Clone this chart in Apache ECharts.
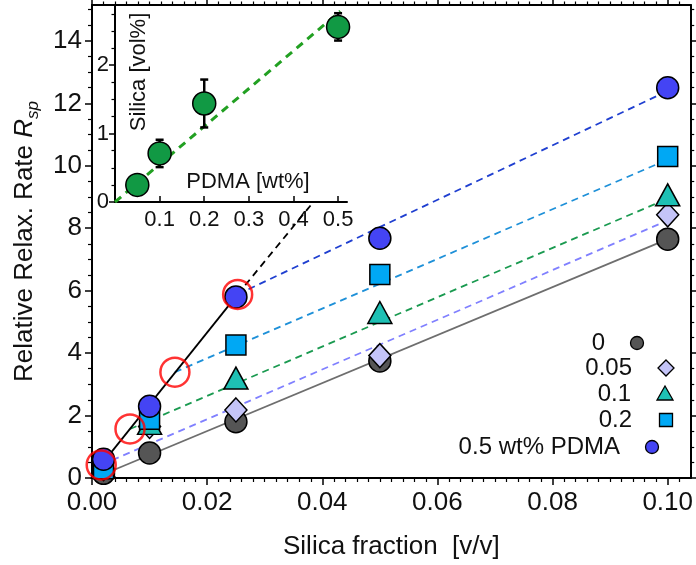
<!DOCTYPE html>
<html>
<head>
<meta charset="utf-8">
<script src="https://cdn.jsdelivr.net/npm/echarts@6/dist/echarts.min.js"></script>
<style>
  html, body { margin: 0; padding: 0; background: #fff; }
  #chart { width: 696px; height: 565px; }
</style>
</head>
<body>
<div id="chart"></div>
<script>
// main panel data
const silica = [0.002, 0.01, 0.025, 0.05, 0.1];
const rsp0 = [0.15, 0.8, 1.8, 3.75, 7.65];
const rsp005 = [0.3, 1.65, 2.18, 3.92, 8.43];
const rsp01 = [0.35, 1.75, 3.2, 5.3, 9.07];
const rsp02 = [0.3, 1.88, 4.26, 6.52, 10.3];
const rsp05 = [0.6, 2.3, 5.8, 7.68, 12.5];

// fit lines: start point per series, all end at x = 0.1
const fitStartX = [0.002, 0.0016, 0.0066, 0.0144, 0.0253];
const fitStartY = [0.12, 0.42, 1.57, 3.39, 5.88];
const fitEndX = 0.1;
const fitEndY = [7.65, 8.25, 8.95, 10.2, 12.4];

// crossover line and marked points
const crossX = [0.0016, 0.0253, 0.0385];
const crossY = [0.42, 5.88, 8.85];
const markX = [0.0016, 0.0066, 0.0144, 0.0253];
const markY = [0.42, 1.57, 3.39, 5.88];

// inset data
const pdma = [0.05, 0.1, 0.2, 0.5];
const silicaVol = [0.25, 0.71, 1.44, 2.56];
const silicaErr = [0, 0.2, 0.35, 0.2];
const insetFitX = [0, 0.505];
const insetFitY = [0, 2.79];
const insetYTicks = [0, 1, 2];

const legendNames = ["0", "0.05", "0.1", "0.2", "0.5 wt% PDMA"];

const FONT = "Liberation Sans, Arial, sans-serif";
const colors = {
  grey: "#555555", lav: "#c4c4f8", teal: "#1ec0b4", sky: "#00a8f4", blue: "#4444f4",
};
const lineColors = ["#6e6e6e", "#8080ff", "#1a9a50", "#1e90d8", "#1f3fd0"];

const chart = echarts.init(document.getElementById("chart"), null, { renderer: "canvas" });

const pairs = (xs, ys) => xs.map((x, i) => [x, ys[i]]);

function markerSeries(name, ys, symbol, size, color, z) {
  return {
    name, type: "scatter", xAxisIndex: 0, yAxisIndex: 0,
    data: pairs(silica, ys), symbol, symbolSize: size, z,
    itemStyle: { color, borderColor: "#000", borderWidth: 1.5, opacity: 1 },
  };
}

function fitSeries(i, dashed) {
  return {
    type: "line", xAxisIndex: 0, yAxisIndex: 0, symbol: "none", z: 2,
    data: [[fitStartX[i], fitStartY[i]], [fitEndX, fitEndY[i]]],
    lineStyle: { color: lineColors[i], width: 1.8, type: dashed ? [7, 5] : "solid" },
  };
}

const mainTick = { fontFamily: FONT, fontSize: 26, color: "#111" };
const axisLine = { show: true, onZero: false, lineStyle: { color: "#000", width: 2 } };

const textEl = (text, x, y, size, align, extra) => ({
  type: "text", x, y, ...(extra || {}),
  style: { text, font: size + "px " + FONT, fill: "#111", textAlign: align, textVerticalAlign: "middle" },
});

const option = {
  animation: false,
  backgroundColor: "#fff",
  grid: [
    { left: 92, right: 5, top: 5, bottom: 86 },
    { left: 115, top: 5, width: 232, height: 197 },
  ],
  xAxis: [
    {
      gridIndex: 0, type: "value", min: 0, max: 0.104, interval: 0.02, position: "bottom",
      axisLine,
      axisTick: { show: true, inside: false, length: 7, lineStyle: { width: 1.5, color: "#000" },
        customValues: [0, 0.02, 0.04, 0.06, 0.08, 0.1] },
      minorTick: { show: true, splitNumber: 10, length: 4, lineStyle: { width: 1.2, color: "#000" } },
      axisLabel: { ...mainTick, margin: 12, showMaxLabel: false,
        formatter: (v) => v.toFixed(2) },
      splitLine: { show: false },
      name: "Silica fraction  [v/v]", nameLocation: "middle", nameGap: 56,
      nameTextStyle: { fontFamily: FONT, fontSize: 26, color: "#111" },
    },
    {
      gridIndex: 0, type: "value", min: 0, max: 0.104, interval: 0.02, position: "top",
      axisLine,
      axisTick: { show: true, inside: false, length: 6, lineStyle: { width: 1.5, color: "#000" },
        customValues: [0, 0.02, 0.04, 0.06, 0.08, 0.1] },
      minorTick: { show: true, splitNumber: 10, length: 3.5, lineStyle: { width: 1.2, color: "#000" } },
      axisLabel: { show: false },
      splitLine: { show: false },
    },
    {
      gridIndex: 1, type: "value", min: 0, max: 0.52, interval: 0.1, position: "bottom",
      axisLine,
      axisTick: { show: true, inside: true, length: 6, lineStyle: { width: 1.5, color: "#000" },
        customValues: [0.1, 0.2, 0.3, 0.4, 0.5] },
      axisLabel: { fontFamily: FONT, fontSize: 22, color: "#111", margin: 7,
        showMinLabel: false, showMaxLabel: false, formatter: (v) => v.toFixed(1) },
      splitLine: { show: false },
    },
  ],
  yAxis: [
    {
      gridIndex: 0, type: "value", min: 0, max: 15.15, interval: 2, position: "left",
      axisLine,
      axisTick: { show: true, inside: false, length: 7, lineStyle: { width: 1.5, color: "#000" },
        customValues: [0, 2, 4, 6, 8, 10, 12, 14] },
      minorTick: { show: true, splitNumber: 4, length: 4, lineStyle: { width: 1.2, color: "#000" } },
      axisLabel: { ...mainTick, margin: 10, showMaxLabel: false },
      splitLine: { show: false },
      name: "Relative Relax. Rate {i|R}{s|sp}", nameLocation: "middle", nameGap: 50,
      nameTextStyle: {
        fontFamily: FONT, fontSize: 26, color: "#111", lineHeight: 34,
        rich: {
          i: { fontFamily: FONT, fontSize: 26, fontStyle: "italic", lineHeight: 34, color: "#111" },
          s: { fontFamily: FONT, fontSize: 17, fontStyle: "italic", lineHeight: 16,
               verticalAlign: "bottom", color: "#111" },
        },
      },
    },
    {
      gridIndex: 0, type: "value", min: 0, max: 15.15, interval: 2, position: "right",
      axisLine,
      axisTick: { show: true, inside: false, length: 6, lineStyle: { width: 1.5, color: "#000" },
        customValues: [0, 2, 4, 6, 8, 10, 12, 14] },
      minorTick: { show: true, splitNumber: 4, length: 3.5, lineStyle: { width: 1.2, color: "#000" } },
      axisLabel: { show: false },
      splitLine: { show: false },
    },
    {
      gridIndex: 1, type: "value", min: 0, max: 2.88, interval: 1, position: "left",
      axisLine,
      axisTick: { show: true, inside: false, length: 6, lineStyle: { width: 1.5, color: "#000" },
        customValues: insetYTicks },
      minorTick: { show: true, splitNumber: 4, length: 3.5, lineStyle: { width: 1.2, color: "#000" } },
      axisLabel: { fontFamily: FONT, fontSize: 22, color: "#111", margin: 6, showMaxLabel: false },
      splitLine: { show: false },
    },
  ],
  series: [
    fitSeries(0, false),
    fitSeries(1, true),
    fitSeries(2, true),
    fitSeries(3, true),
    fitSeries(4, true),
    {
      type: "line", xAxisIndex: 0, yAxisIndex: 0, symbol: "none", z: 2,
      data: pairs(crossX.slice(0, 2), crossY.slice(0, 2)),
      lineStyle: { color: "#000", width: 1.8 },
    },
    {
      type: "line", xAxisIndex: 0, yAxisIndex: 0, symbol: "none", z: 2, clip: false,
      data: pairs(crossX.slice(1), crossY.slice(1)),
      lineStyle: { color: "#000", width: 1.8, type: [7, 5] },
    },
    markerSeries(legendNames[0], rsp0, "circle", 22, colors.grey, 3),
    markerSeries(legendNames[1], rsp005, "diamond", [22, 24], colors.lav, 4),
    markerSeries(legendNames[2], rsp01, "triangle", [24, 22], colors.teal, 5),
    markerSeries(legendNames[3], rsp02, "rect", 20, colors.sky, 6),
    markerSeries(legendNames[4], rsp05, "circle", 22, colors.blue, 7),
    {
      type: "scatter", xAxisIndex: 0, yAxisIndex: 0, z: 8,
      data: pairs(markX, markY), symbol: "circle", symbolSize: 29,
      itemStyle: { color: "rgba(0,0,0,0)", borderColor: "#ff0000", borderWidth: 2.5 },
    },
    // inset
    {
      type: "line", xAxisIndex: 2, yAxisIndex: 2, symbol: "none", z: 2, clip: false,
      data: pairs(insetFitX, insetFitY),
      lineStyle: { color: "#22a022", width: 3, type: [8, 6] },
    },
    {
      type: "custom", xAxisIndex: 2, yAxisIndex: 2, z: 3,
      data: pdma.map((x, i) => [x, silicaVol[i], silicaErr[i]]),
      renderItem: (params, api) => {
        const x = api.value(0), y = api.value(1), e = api.value(2);
        if (!e) return null;
        const top = api.coord([x, y + e]);
        const bot = api.coord([x, y - e]);
        const st = { stroke: "#000", lineWidth: 2.5 };
        return {
          type: "group",
          children: [
            { type: "line", shape: { x1: top[0], y1: top[1], x2: bot[0], y2: bot[1] }, style: st },
            { type: "line", shape: { x1: top[0] - 4, y1: top[1], x2: top[0] + 4, y2: top[1] }, style: st },
            { type: "line", shape: { x1: bot[0] - 4, y1: bot[1], x2: bot[0] + 4, y2: bot[1] }, style: st },
          ],
        };
      },
    },
    {
      type: "scatter", xAxisIndex: 2, yAxisIndex: 2, z: 4,
      data: pairs(pdma, silicaVol), symbol: "circle", symbolSize: 23,
      itemStyle: { color: "#119944", borderColor: "#000", borderWidth: 1.5, opacity: 1 },
    },
  ],
  graphic: [
    textEl("PDMA [wt%]", 248, 182, 22, "center"),
    textEl("Silica [vol%]", 139, 72, 22, "center", { rotation: Math.PI / 2 }),
    // legend
    textEl(legendNames[0], 605, 343, 24, "right"),
    textEl(legendNames[1], 632, 368, 24, "right"),
    textEl(legendNames[2], 631, 394, 24, "right"),
    textEl(legendNames[3], 632, 420, 24, "right"),
    textEl(legendNames[4], 620, 447, 24, "right"),
    { type: "circle", shape: { cx: 637, cy: 343, r: 6.5 }, style: { fill: colors.grey, stroke: "#000", lineWidth: 1.3 } },
    { type: "polygon", shape: { points: [[666, 360], [674, 368], [666, 376], [658, 368]] }, style: { fill: colors.lav, stroke: "#000", lineWidth: 1.3 } },
    { type: "polygon", shape: { points: [[665, 386], [673, 400], [657, 400]] }, style: { fill: colors.teal, stroke: "#000", lineWidth: 1.3 } },
    { type: "rect", shape: { x: 659.5, y: 413.5, width: 13, height: 13 }, style: { fill: colors.sky, stroke: "#000", lineWidth: 1.3 } },
    { type: "circle", shape: { cx: 652, cy: 447, r: 6.5 }, style: { fill: colors.blue, stroke: "#000", lineWidth: 1.3 } },
  ],
};

chart.setOption(option);
</script>
</body>
</html>
